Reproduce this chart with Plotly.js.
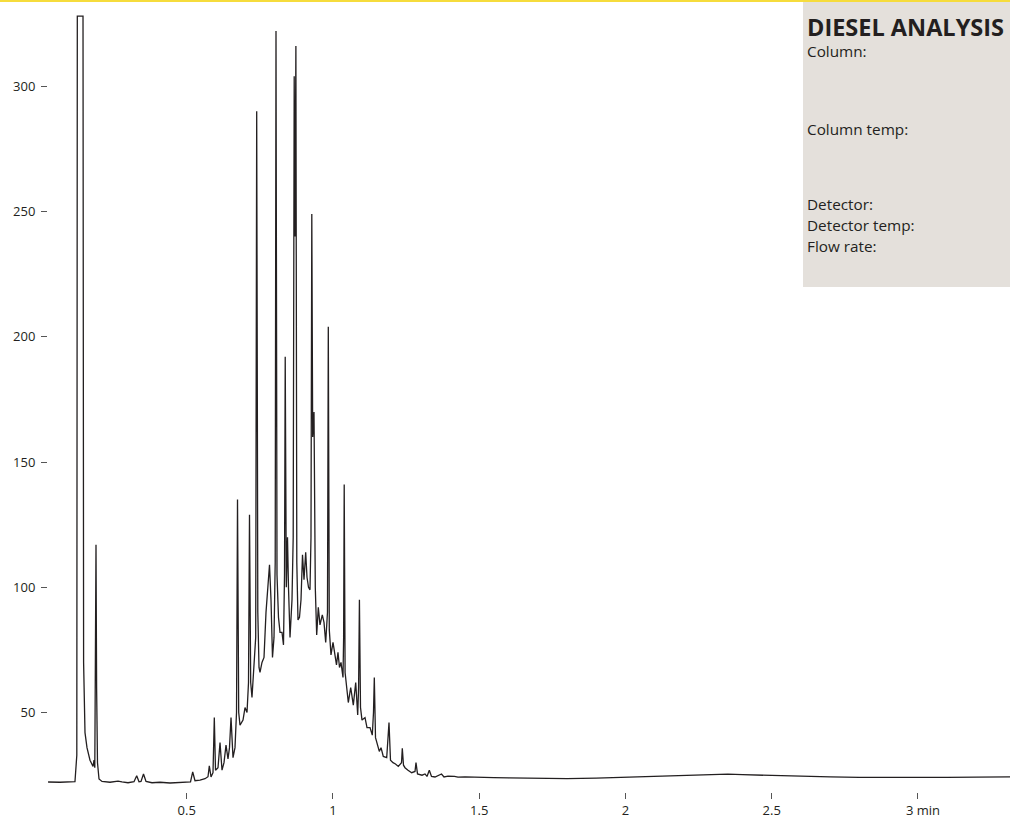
<!DOCTYPE html>
<html>
<head>
<meta charset="utf-8">
<script src="https://cdn.plot.ly/plotly-3.0.1.min.js"></script>
<style>html,body{margin:0;padding:0;background:#fff;}#chart{width:1010px;height:818px;}</style>
</head>
<body>
<div id="chart"></div>
<script>
// Retention time (min)
const timeMin = [
0.026,0.067,0.118,0.1216,0.1243,0.1260,0.1455,0.1475,0.1499,0.1523,0.1591,0.1694,0.1797,0.1831,0.1858,0.1882,0.1899,0.1920,0.1950,0.2002,
0.2104,0.2378,0.2651,0.2788,0.2993,0.3198,0.3291,0.3369,0.3438,0.3523,0.3609,0.3814,0.4087,0.4429,0.4771,0.5010,0.5130,0.5205,0.5284,0.5455,
0.5626,0.5728,0.5773,0.5831,0.5899,0.5944,0.5985,0.6070,0.6139,0.6207,0.6275,0.6344,0.6412,0.6463,0.6515,0.6583,0.6651,0.6703,0.6737,0.6778,
0.6822,0.6925,0.6994,0.7062,0.7113,0.7147,0.7188,0.7232,0.7301,0.7359,0.7393,0.7431,0.7472,0.7506,0.7574,0.7643,0.7711,0.7779,0.7831,0.7882,
0.7933,0.7985,0.8026,0.8053,0.8087,0.8138,0.8190,0.8258,0.8309,0.8344,0.8368,0.8405,0.8446,0.8480,0.8532,0.8600,0.8641,0.8675,0.8703,0.8733,
0.8764,0.8805,0.8856,0.8908,0.8959,0.9010,0.9068,0.9113,0.9164,0.9215,0.9249,0.9277,0.9307,0.9352,0.9396,0.9444,0.9499,0.9557,0.9636,0.9694,
0.9752,0.9813,0.9841,0.9875,0.9933,1.0002,1.0070,1.0121,1.0172,1.0224,1.0275,1.0343,1.0365,1.0385,1.0415,1.0446,1.0525,1.0607,1.0696,1.0778,
1.0846,1.0877,1.0905,1.0942,1.0993,1.1096,1.1164,1.1267,1.1345,1.1386,1.1414,1.1455,1.1506,1.1585,1.1643,1.1721,1.1838,1.1892,1.1916,1.1967,
1.2053,1.2138,1.2234,1.2344,1.2371,1.2412,1.2463,1.2566,1.2692,1.2805,1.2839,1.2891,1.3044,1.3147,1.3215,1.3294,1.3369,1.3489,1.3711,1.3797,
1.3934,1.4156,1.4275,1.4515,1.4686,1.5027,1.55,1.6,1.7,1.8,1.9,2.0,2.1,2.2,2.3,2.35,2.4,2.5,2.6,2.7,
2.8,2.9,3.0,3.1,3.2,3.315
];
// Detector signal
const signal = [
22.3,22.2,22.4,30,33,328,328,70,48,42,36,31,28.5,31,28,60,117,60,30,23.5,
22.5,22.2,22.6,22.3,22.0,22.4,24.8,22.4,22.5,25.5,22.5,22.0,22.2,21.9,22.1,22.0,22.3,26.3,22.8,23.0,
23.6,24.4,28.7,24.3,26,48,27,28,38,27,30,37,31.5,36,48,32,36,50,135,50,
45,47,52,50,62,129,62,56,68,80,290,90,68,66,70,72,90,100,109,95,
72,80,110,322,105,88,82,82,77,105,192,100,120,100,80,95,120,304,240,316,
110,87,88,95,113,103,114,104,100,99,120,249,160,170,100,81,92,85,89,86,
78,90,204,83,73,78,72,69,74,68,70,64,80,141,66,63,54,60,53,62,
49,60,95,52,47,48,44,44,41,50,64,40,38,34.5,36,32.5,32,40,46,31,
30,29.5,28.5,30,35.7,29,28,27,26,26.5,30,25.5,25,25.5,24.5,27,24.5,24.3,25.5,24.3,
24.6,24.5,24.2,24.3,24.2,24.2,24.0,23.9,23.7,23.6,23.8,24.2,24.6,25.1,25.5,25.4,25.2,24.8,24.5,24.3,
24.1,24.0,24.0,24.1,24.2,24.3
];
const xTickVals = [0.5, 1, 1.5, 2, 2.5, 3];
const xTickText = ['0.5', '1', '1.5', '2', '2.5', '\u00a0\u00a0\u00a03 min'];
const yTickVals = [50, 100, 150, 200, 250, 300];
const yTickText = ['50', '100', '150', '200', '250', '300'];
const boxTitle = 'DIESEL ANALYSIS';
const boxLines = ['Column:', 'Column temp:', 'Detector:', 'Detector temp:', 'Flow rate:'];

const W = 1010, H = 818, ML = 48, MR = 0, MT = 2, MB = 26;
const PW = W - ML - MR, PH = H - MT - MB;
const px = x => (x - ML) / PW;
const py = y => (H - MB - y) / PH;

const tickFont = {family: 'Open Sans, sans-serif', size: 13, color: '#231f20'};
const txt = '#231f20';

const boxLineY = [51, 129, 204, 225, 246];
const annotations = [{
  text: '<b>' + boxTitle + '</b>', xref: 'paper', yref: 'paper', x: px(805), y: py(27),
  xanchor: 'left', yanchor: 'middle', showarrow: false,
  font: {family: 'Open Sans, sans-serif', size: 23.5, color: txt}
}].concat(boxLines.map((t, i) => ({
  text: t, xref: 'paper', yref: 'paper', x: px(805), y: py(boxLineY[i]),
  xanchor: 'left', yanchor: 'middle', showarrow: false,
  font: {family: 'Open Sans, sans-serif', size: 15.3, color: txt}
})));

const layout = {
  width: W, height: H,
  margin: {l: ML, r: MR, t: MT, b: MB, pad: 0},
  paper_bgcolor: '#ffffff', plot_bgcolor: '#ffffff',
  showlegend: false,
  xaxis: {
    range: [0.0258, 3.3147], tickmode: 'array', tickvals: xTickVals, ticktext: xTickText,
    ticks: 'outside', ticklen: 6, tickwidth: 1, tickcolor: '#555',
    showline: false, showgrid: false, zeroline: false, tickfont: tickFont, fixedrange: true
  },
  yaxis: {
    range: [18.3, 333.6], tickmode: 'array', tickvals: yTickVals, ticktext: yTickText,
    ticks: 'outside', ticklen: 6, tickwidth: 1, tickcolor: '#555', ticklabelstandoff: 3,
    showline: false, showgrid: false, zeroline: false, tickfont: tickFont, fixedrange: true
  },
  shapes: [
    {type: 'rect', xref: 'paper', yref: 'paper', x0: px(803), x1: 1, y0: py(287), y1: 1,
     fillcolor: '#e4e0db', line: {width: 0}, layer: 'below'},
    {type: 'rect', xref: 'paper', yref: 'paper', x0: px(0), x1: 1, y0: 1, y1: py(0),
     fillcolor: '#f6dc3c', line: {width: 0}, layer: 'above'}
  ],
  annotations: annotations
};

Plotly.newPlot('chart', [{
  type: 'scatter', mode: 'lines', x: timeMin, y: signal,
  line: {color: '#231f20', width: 1.3}, hoverinfo: 'skip'
}], layout, {displayModeBar: false, staticPlot: true});
</script>
</body>
</html>
